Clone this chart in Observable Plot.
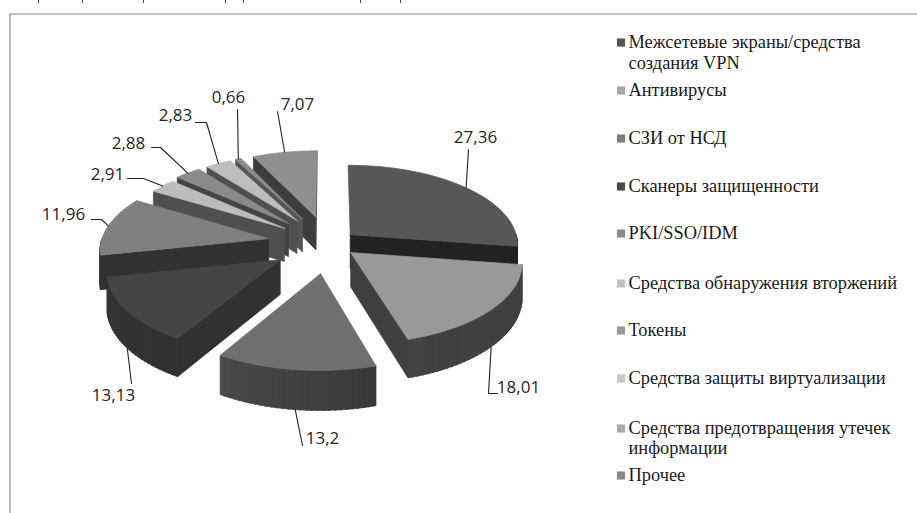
<!DOCTYPE html>
<html><head><meta charset="utf-8">
<script src="https://cdn.jsdelivr.net/npm/d3@7"></script>
<script src="https://cdn.jsdelivr.net/npm/@observablehq/plot@0.6"></script>
<style>html,body{margin:0;padding:0;background:#fff;overflow:hidden}svg{display:block}</style>
</head><body><div id="chart"></div>
<script>
// ---- data ----
const categories = [
  ["Межсетевые экраны/средства", "создания VPN"],
  ["Антивирусы"],
  ["СЗИ от НСД"],
  ["Сканеры защищенности"],
  ["PKI/SSO/IDM"],
  ["Средства обнаружения вторжений"],
  ["Токены"],
  ["Средства защиты виртуализации"],
  ["Средства предотвращения утечек", "информации"],
  ["Прочее"]
];
const values = [27.36, 18.01, 13.2, 13.13, 11.96, 2.91, 2.88, 2.83, 0.66, 7.07];
const valueLabels = ["27,36", "18,01", "13,2", "13,13", "11,96", "2,91", "2,88", "2,83", "0,66", "7,07"];

// ---- styles ----
const topColors  = ["#575757", "#999999", "#6f6f6f", "#454545", "#808080", "#bcbcbc", "#8a8a8a", "#bdbdbd", "#8c8c8c", "#8f8f8f"];
const wallColors = ["#222222", "#3f3f3f", "#3e3e3e", "#313131", "#313131", "#4f4f4f", "#444444", "#4f4f4f", "#555555", "#3d3d3d"];
const swatchColors = ["#555555", "#a6a6a6", "#7f7f7f", "#4a4a4a", "#8c8c8c", "#c0c0c0", "#999999", "#c8c8c8", "#a8a8a8", "#8a8a8a"];

// ---- layout ----
const cx = 328, cy = 243, R = 168, tilt = 0.47, persp = 0.11, depth = 34;
const explode = [29, 29, 62, 58, 61, 56, 60, 60, 60, 60];
const labelPos = [[475,137],[518,387],[322,438],[113,395],[63,214],[107,174],[128,143],[175,115],[228,97],[297,104]];
const leaderStart = [[468,149],[497,393],[302,445],[131,383],[91,219],[127,178],[151,147],[195,122],[237,109],[277,111]];
const leaderBend = [null,[488,393],null,null,[101,219],[143,178],[160,147],[206,122],null,null];
const legendY = [[42,63],[90],[138],[186],[233],[283],[330],[378],[428,448],[475]];
const clippedTextX = [38,82,143,225,243,360,400];

const WIDTH = 917, HEIGHT = 513;

const arcs = d3.pie().sort(null).value(d => d)(values);
const project = (X, Y, z = 0) => {
  const s = 1 / (1 + persp * Y / R);
  return [cx + X * s, cy - Y * tilt * s + z * s];
};
const rim = (i, a) => {
  const m = (arcs[i].startAngle + arcs[i].endAngle) / 2;
  return [explode[i] * Math.sin(m) + R * Math.sin(a), explode[i] * Math.cos(m) + R * Math.cos(a)];
};
const apex = i => {
  const m = (arcs[i].startAngle + arcs[i].endAngle) / 2;
  return [explode[i] * Math.sin(m), explode[i] * Math.cos(m)];
};
const shade = (c, k) => d3.rgb(c).brighter(k).formatHex();

// ---- polygons, painted back to front ----
const polys = [];
let pid = 0;
const addPoly = (pts, color, stroked = true) => {
  const id = pid++;
  [...pts, pts[0]].forEach(p => polys.push({id, x: p[0], y: p[1], color}));
};
const drawOrder = [9, 8, 7, 6, 5, 4, 3, 0, 1, 2];
for (const i of drawOrder) {
  const a0 = arcs[i].startAngle, a1 = arcs[i].endAngle, ap = apex(i), wc = wallColors[i];
  // radial walls
  if (Math.sin(a0) < -0.01) {
    const r = rim(i, a0);
    addPoly([project(...ap), project(...r), project(...r, depth), project(...ap, depth)], wc);
  }
  if (Math.sin(a1) > 0.01 || i === 9) {
    const r = rim(i, a1);
    addPoly([project(...ap), project(...r), project(...r, depth), project(...ap, depth)], wc);
  }
  // curved outer wall with a soft gradient
  const lo = Math.max(a0, Math.PI / 2), hi = Math.min(a1, 3 * Math.PI / 2);
  if (hi > lo) {
    const n = Math.max(2, Math.ceil((hi - lo) / 0.03));
    for (let k = 0; k < n; k++) {
      const b0 = lo + (hi - lo) * k / n, b1 = Math.min(hi, lo + (hi - lo) * (k + 1) / n + 0.01);
      const r0 = rim(i, b0), r1 = rim(i, b1);
      const f = (k + 0.5) / n; // 0 at the right end, 1 at the left end of the slice
      const col = shade(wc, i === 2 ? -0.25 + 0.75 * f : 0.12 * f);
      addPoly([project(...r0), project(...r1), project(...r1, depth), project(...r0, depth)], col);
    }
  }
  // top face
  const top = [project(...ap)];
  const n = Math.max(2, Math.ceil((a1 - a0) / 0.03));
  for (let k = 0; k <= n; k++) top.push(project(...rim(i, a0 + (a1 - a0) * k / n)));
  addPoly(top, topColors[i]);
}

// ---- leaders ----
const leaders = [];
values.forEach((v, i) => {
  const m = (arcs[i].startAngle + arcs[i].endAngle) / 2;
  const front = Math.cos(m) < 0;
  const end = project(...rim(i, m), front ? depth : 0);
  const pts = [leaderStart[i]];
  if (leaderBend[i]) pts.push(leaderBend[i]);
  pts.push(end);
  pts.forEach(p => leaders.push({i, x: p[0], y: p[1]}));
});

const labels = valueLabels.map((t, i) => ({t, x: labelPos[i][0], y: labelPos[i][1]}));
const legendLines = categories.flatMap((ls, i) => ls.map((t, j) => ({t, y: legendY[i][j]})));
const swatches = categories.map((c, i) => ({y: legendY[i][0], color: swatchColors[i]}));

const chart = Plot.plot({
  width: WIDTH, height: HEIGHT, margin: 0,
  x: {domain: [0, WIDTH], range: [0, WIDTH], axis: null},
  y: {domain: [0, HEIGHT], range: [0, HEIGHT], axis: null},
  color: {type: "identity"},
  marks: [
    Plot.ruleX(clippedTextX, {x: d => d, y1: 0, y2: 3, stroke: "#444", strokeWidth: 1}),
    // chart frame
    Plot.line([[9.5, HEIGHT], [9.5, 13.5], [WIDTH, 13.5]], {stroke: "#8c8c8c", strokeWidth: 1.2}),
    Plot.line(polys, {x: "x", y: "y", z: "id", fill: "color", stroke: "color", strokeWidth: 0.7, curve: "linear"}),
    Plot.line(leaders, {x: "x", y: "y", z: "i", stroke: "#222", strokeWidth: 1.1}),
    Plot.text(labels, {x: "x", y: "y", text: "t", fontFamily: "Open Sans", fontSize: 17, fill: "#262626", textAnchor: "middle"}),
    Plot.dot(swatches, {x: 620.5, y: d => d.y, symbol: "square", r: 4.6, fill: "color", stroke: null}),
    Plot.text(legendLines, {x: 628, y: "y", text: "t", fontFamily: "Liberation Serif", fontSize: 18.4, fill: "#1a1a1a", textAnchor: "start"})
  ]
});
document.getElementById("chart").append(chart);
</script></body></html>
